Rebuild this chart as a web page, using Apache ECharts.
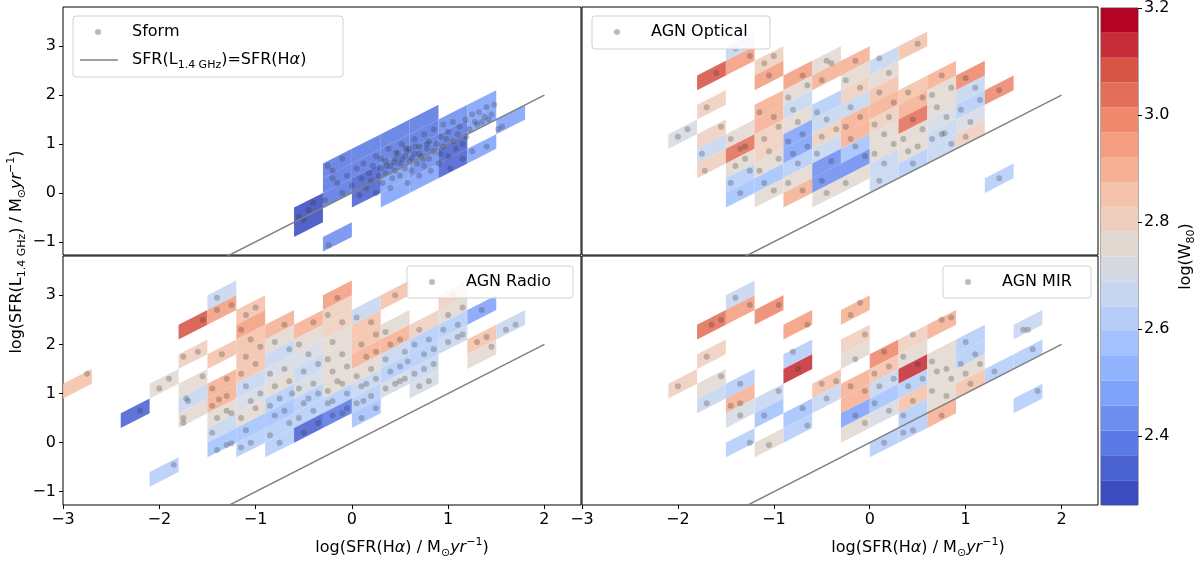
<!DOCTYPE html>
<html>
<head>
<meta charset="utf-8">
<script src="https://cdn.jsdelivr.net/npm/echarts@6/dist/echarts.min.js"></script>
<style>
  html, body { margin: 0; background: #fff; }
  #chart { width: 1200px; height: 569px; }
</style>
</head>
<body>
<div id="chart"></div>
<script>
// Axis limits shared by all four panels.
const X_MIN = -3, X_MAX = 2.38;
const Y_MIN = -1.27, Y_MAX = 3.8;
const X_TICKS = [-3, -2, -1, 0, 1, 2];
const Y_TICKS = [-1, 0, 1, 2, 3];

// Bins are 0.3 dex in SFR(Ha) and 0.3 dex in the offset from the 1:1 line,
// so every cell is a parallelogram that leans along y = x.
const BIN = 0.3;

// Colour scale: 20 discrete coolwarm levels between the data min and max.
const W80_MIN = 2.271, W80_MAX = 3.2;
const CBAR_TICKS = [2.4, 2.6, 2.8, 3.0, 3.2];
const LEVEL_COLORS = [
  "#3b4cc0", "#4a62d1", "#5b79e4", "#6d8ef0", "#7fa2fa",
  "#91b3fd", "#a3c2fd", "#b5cdf8", "#c6d6f0", "#d5dae2",
  "#e2d8d2", "#eecfbf", "#f4c1aa", "#f6b194", "#f49d80",
  "#ef886c", "#e46f59", "#d75546", "#c62d36", "#b40426",
];

// Cells: [left edge in log SFR(Ha), low edge of offset above 1:1, log W80]
const SFORM_CELLS = [
  [-0.6, -0.3, 2.28], [-0.6, 0, 2.3],
  [-0.3, -0.9, 2.45], [-0.3, 0, 2.37], [-0.3, 0.3, 2.37], [-0.3, 0.6, 2.37],
  [0, -0.3, 2.34], [0, 0, 2.34], [0, 0.3, 2.37], [0, 0.6, 2.37],
  [0.3, -0.6, 2.48], [0.3, -0.3, 2.48], [0.3, 0, 2.38], [0.3, 0.3, 2.37], [0.3, 0.6, 2.37],
  [0.6, -0.6, 2.48], [0.6, -0.3, 2.43], [0.6, 0, 2.38], [0.6, 0.3, 2.37], [0.6, 0.6, 2.37],
  [0.9, -0.6, 2.36], [0.9, -0.3, 2.36], [0.9, 0, 2.4], [0.9, 0.3, 2.42],
  [1.2, 0.3, 2.46], [1.2, 0, 2.46], [1.2, -0.6, 2.48],
  [1.5, -0.3, 2.5],
];
const OPTICAL_CELLS = [
  [-2.1, 3.0, 2.72],
  [-1.8, 3.9, 3.08], [-1.8, 3.3, 2.8], [-1.8, 2.7, 2.8], [-1.8, 2.4, 2.65], [-1.8, 2.1, 2.8],
  [-1.5, 4.2, 2.66], [-1.5, 3.9, 2.93], [-1.5, 2.4, 2.78], [-1.5, 2.1, 3.03], [-1.5, 1.8, 2.74],
  [-1.5, 1.5, 2.64], [-1.5, 1.2, 2.55],
  [-1.2, 3.6, 2.82], [-1.2, 3.3, 2.93], [-1.2, 2.7, 2.88], [-1.2, 2.4, 2.9], [-1.2, 2.1, 2.8],
  [-1.2, 1.8, 2.8], [-1.2, 1.5, 2.74], [-1.2, 1.2, 2.55], [-1.2, 0.9, 2.74],
  [-0.9, 3.0, 2.93], [-0.9, 2.7, 2.75], [-0.9, 2.4, 2.66], [-0.9, 2.1, 2.74], [-0.9, 1.8, 2.5],
  [-0.9, 1.5, 2.5], [-0.9, 1.2, 2.62], [-0.9, 0.9, 2.74], [-0.9, 0.6, 2.9],
  [-0.6, 3.0, 2.75], [-0.6, 2.7, 2.9], [-0.6, 2.1, 2.6], [-0.6, 1.8, 2.68], [-0.6, 1.5, 2.8],
  [-0.6, 1.2, 2.68], [-0.6, 0.9, 2.45], [-0.6, 0.6, 2.45], [-0.6, 0.3, 2.74],
  [-0.3, 2.7, 2.9], [-0.3, 2.4, 2.78], [-0.3, 2.1, 2.8], [-0.3, 1.8, 2.65], [-0.3, 1.5, 2.88],
  [-0.3, 1.2, 2.88], [-0.3, 0.9, 2.55], [-0.3, 0.6, 2.45], [-0.3, 0.3, 2.74],
  [0, 2.4, 2.66], [0, 2.1, 2.76], [0, 1.8, 2.86], [0, 1.5, 2.88], [0, 1.2, 2.82],
  [0, 0.9, 2.74], [0, 0.6, 2.74], [0, 0.3, 2.65], [0, 0, 2.65],
  [0.3, 2.4, 2.85], [0.3, 1.5, 2.84], [0.3, 1.2, 2.9], [0.3, 0.9, 3.05], [0.3, 0.6, 2.74],
  [0.3, 0.3, 2.74], [0.3, 0, 2.62],
  [0.6, 1.5, 2.88], [0.6, 1.2, 2.74], [0.6, 0.9, 2.74], [0.6, 0.6, 2.7], [0.6, 0.3, 2.68], [0.6, 0, 2.66],
  [0.9, 1.2, 2.98], [0.9, 0.9, 2.66], [0.9, 0.6, 2.6], [0.9, 0.3, 2.72], [0.9, 0, 2.8],
  [1.2, 0.6, 3.0], [1.2, -1.2, 2.62],
];
const RADIO_CELLS = [
  [-3.0, 3.9, 2.86],
  [-2.4, 2.7, 2.33],
  [-2.1, 3.0, 2.74], [-2.1, 1.2, 2.64],
  [-1.8, 3.9, 3.08], [-1.8, 3.3, 2.8], [-1.8, 2.7, 2.74], [-1.8, 2.4, 2.66], [-1.8, 2.1, 2.74],
  [-1.5, 4.2, 2.66], [-1.5, 3.9, 2.93], [-1.5, 3.0, 2.86], [-1.5, 2.4, 2.88], [-1.5, 2.1, 2.92],
  [-1.5, 1.8, 2.74], [-1.5, 1.5, 2.66], [-1.5, 1.2, 2.58],
  [-1.2, 3.6, 2.84], [-1.2, 3.3, 2.96], [-1.2, 3.0, 2.87], [-1.2, 2.7, 2.87], [-1.2, 2.4, 2.86],
  [-1.2, 2.1, 2.66], [-1.2, 1.8, 2.7], [-1.2, 1.5, 2.74], [-1.2, 1.2, 2.56], [-1.2, 0.9, 2.62],
  [-0.9, 3.0, 2.9], [-0.9, 2.7, 2.76], [-0.9, 2.4, 2.66], [-0.9, 2.1, 2.7], [-0.9, 1.8, 2.74],
  [-0.9, 1.5, 2.6], [-0.9, 1.2, 2.58], [-0.9, 0.9, 2.62], [-0.9, 0.6, 2.62],
  [-0.6, 2.7, 2.9], [-0.6, 2.4, 2.76], [-0.6, 2.1, 2.72], [-0.6, 1.8, 2.66], [-0.6, 1.5, 2.7],
  [-0.6, 1.2, 2.6], [-0.6, 0.9, 2.64], [-0.6, 0.6, 2.35],
  [-0.3, 3.0, 2.93], [-0.3, 2.7, 2.8], [-0.3, 2.4, 2.8], [-0.3, 2.1, 2.78], [-0.3, 1.8, 2.75],
  [-0.3, 1.5, 2.75], [-0.3, 1.2, 2.74], [-0.3, 0.9, 2.64], [-0.3, 0.6, 2.38],
  [0, 2.4, 2.66], [0, 2.1, 2.86], [0, 1.8, 2.86], [0, 1.5, 2.9], [0, 1.2, 2.74],
  [0, 0.9, 2.66], [0, 0.6, 2.6], [0, 0.3, 2.55],
  [0.3, 2.4, 2.86], [0.3, 1.8, 2.76], [0.3, 1.5, 2.9], [0.3, 1.2, 2.66], [0.3, 0.9, 2.62], [0.3, 0.6, 2.72],
  [0.6, 1.5, 2.8], [0.6, 1.2, 2.6], [0.6, 0.9, 2.6], [0.6, 0.6, 2.66], [0.6, 0.3, 2.7],
  [0.9, 1.8, 2.8], [0.9, 1.5, 2.76], [0.9, 1.2, 2.64], [0.9, 0.9, 2.66],
  [1.2, 1.2, 2.5], [1.2, 0.6, 2.86], [1.2, 0.3, 2.76],
  [1.5, 0.6, 2.66],
];
const MIR_CELLS = [
  [-2.1, 3.0, 2.8],
  [-1.8, 3.9, 3.06], [-1.8, 3.3, 2.8], [-1.8, 2.7, 2.74], [-1.8, 2.4, 2.66],
  [-1.5, 4.2, 2.66], [-1.5, 3.9, 2.93], [-1.5, 2.4, 2.62], [-1.5, 2.1, 2.9], [-1.5, 1.8, 2.7], [-1.5, 1.2, 2.62],
  [-1.2, 3.6, 2.97], [-1.2, 1.8, 2.68], [-1.2, 1.5, 2.58], [-1.2, 0.9, 2.74],
  [-0.9, 3.0, 2.95], [-0.9, 2.4, 2.6], [-0.9, 2.1, 3.15], [-0.9, 1.2, 2.55], [-0.9, 0.9, 2.64],
  [-0.6, 1.5, 2.86], [-0.6, 1.2, 2.66],
  [-0.3, 2.7, 2.88], [-0.3, 2.1, 2.8], [-0.3, 1.8, 2.74], [-0.3, 1.2, 2.92], [-0.3, 0.9, 2.92],
  [-0.3, 0.6, 2.5], [-0.3, 0.3, 2.74],
  [0, 1.5, 3.0], [0, 1.2, 2.86], [0, 0.9, 2.66], [0, 0.6, 2.58], [0, 0.3, 2.72], [0, -0.3, 2.62],
  [0.3, 1.5, 2.8], [0.3, 1.2, 2.74], [0.3, 0.9, 3.15], [0.3, 0.6, 2.64], [0.3, 0.3, 2.86],
  [0.3, 0, 2.6], [0.3, -0.3, 2.64],
  [0.6, 1.5, 2.9], [0.6, 0.9, 2.74], [0.6, 0.6, 2.76], [0.6, 0.3, 2.74], [0.6, 0, 2.74], [0.6, -0.3, 2.9],
  [0.9, 0.9, 2.6], [0.9, 0.6, 2.62], [0.9, 0.3, 2.74], [0.9, 0, 2.86],
  [1.2, 0, 2.64],
  [1.5, 0.6, 2.66], [1.5, 0, 2.6], [1.5, -0.9, 2.64],
];

// Individual galaxies: [log SFR(Ha), log SFR(L1.4GHz)]
const SFORM_POINTS = [
  [-0.55, -0.5], [-0.45, -0.35], [-0.4, -0.2], [-0.5, -0.55], [-0.24, -1.07],
  [-0.28, -0.15], [-0.25, 0.55], [-0.2, 0.45], [-0.2, 0.3], [-0.15, 0.2], [-0.1, 0.0], [-0.1, 0.7], [-0.05, 0.35],
  [0.0, 0.15], [0.05, 0.5], [0.08, -0.05], [0.1, 0.3], [0.12, 0.6], [0.15, 0.1], [0.18, 0.4], [0.2, 0.25],
  [0.22, 0.55], [0.25, 0.0], [0.25, 0.75], [0.28, 0.35],
  [0.3, 0.5], [0.3, 0.7], [0.32, 0.2], [0.35, 0.65], [0.35, 0.4], [0.36, 0.55], [0.38, 0.9], [0.4, 0.55],
  [0.4, 0.1], [0.42, 0.3], [0.44, 0.62], [0.45, 0.7], [0.45, 0.45], [0.46, 0.82], [0.48, 0.8], [0.5, 0.6],
  [0.5, 0.35], [0.52, 1.0], [0.52, 0.68], [0.55, 0.5], [0.55, 0.75], [0.56, 0.9], [0.58, 0.2], [0.58, 0.85],
  [0.6, 0.9], [0.6, 0.65], [0.62, 0.45], [0.62, 0.72], [0.65, 1.1], [0.65, 0.8], [0.66, 0.95], [0.68, 0.6],
  [0.7, 0.95], [0.7, 0.35], [0.7, 0.8], [0.72, 0.75], [0.74, 0.68], [0.75, 1.2], [0.75, 0.55], [0.78, 0.9],
  [0.78, 1.0], [0.8, 1.05], [0.8, 0.7], [0.82, 0.45], [0.85, 1.3], [0.85, 0.85], [0.88, 1.0],
  [0.9, 0.6], [0.92, 1.15], [0.92, 0.8], [0.95, 1.4], [0.95, 0.95], [0.98, 1.1], [1.0, 0.75], [1.0, 1.25],
  [1.02, 0.5], [1.05, 1.05], [1.05, 1.45], [1.08, 0.9], [1.1, 1.2], [1.12, 1.35], [1.15, 1.0], [1.15, 0.7],
  [1.18, 1.5], [1.19, 1.15],
  [1.22, 1.3], [1.25, 1.6], [1.25, 0.85], [1.28, 1.45], [1.3, 1.4], [1.32, 1.65], [1.35, 1.45], [1.38, 1.55],
  [1.4, 1.75], [1.4, 0.95], [1.42, 1.5], [1.45, 1.6], [1.48, 1.8],
  [1.52, 1.3], [1.56, 1.35],
];
const OPTICAL_POINTS = [
  [-2.0, 1.15], [-1.9, 1.3],
  [-1.6, 2.45], [-1.7, 1.75], [-1.55, 1.35], [-1.75, 0.8], [-1.72, 0.45],
  [-1.4, 2.95], [-1.25, 2.8], [-1.45, 1.1], [-1.35, 0.9], [-1.3, 0.95], [-1.4, 0.55], [-1.3, 0.7],
  [-1.45, 0.2], [-1.25, 0.45], [-1.35, 0.0],
  [-1.1, 2.65], [-1.0, 2.8], [-1.05, 2.4], [-1.15, 1.65], [-1.0, 1.55], [-1.1, 1.1], [-0.95, 1.35],
  [-1.05, 0.85], [-1.15, 0.45], [-0.95, 0.7], [-1.1, 0.2], [-1.0, 0.05],
  [-0.7, 2.4], [-0.85, 1.95], [-0.65, 2.2], [-0.8, 1.7], [-0.75, 1.45], [-0.85, 1.05], [-0.7, 1.2],
  [-0.8, 0.8], [-0.65, 0.95], [-0.75, 0.6], [-0.85, 0.2], [-0.7, 0.05],
  [-0.45, 2.7], [-0.4, 2.65], [-0.5, 2.3], [-0.55, 1.65], [-0.45, 1.5], [-0.5, 1.15], [-0.35, 1.3],
  [-0.55, 0.8], [-0.4, 0.65], [-0.5, 0.25], [-0.45, 0.0],
  [-0.15, 2.7], [-0.25, 2.3], [-0.1, 2.15], [-0.2, 1.75], [-0.25, 1.35], [-0.1, 1.55], [-0.2, 1.1],
  [-0.15, 0.95], [-0.05, 0.75], [-0.25, 0.2],
  [0.1, 2.75], [0.2, 2.45], [0.1, 2.05], [0.25, 1.85], [0.05, 1.4], [0.2, 1.55], [0.15, 1.2],
  [0.05, 0.8], [0.25, 1.0], [0.15, 0.6], [0.1, 0.25],
  [0.5, 3.05], [0.4, 2.05], [0.55, 1.95], [0.45, 1.5], [0.35, 1.1], [0.55, 1.3], [0.4, 0.85],
  [0.5, 0.95], [0.45, 0.6],
  [0.75, 2.4], [0.65, 2.0], [0.85, 2.15], [0.7, 1.75], [0.8, 1.55], [0.65, 1.1], [0.75, 1.2],
  [0.78, 1.22], [0.85, 1.0],
  [1.0, 2.35], [1.1, 2.15], [0.95, 1.7], [1.15, 1.9], [1.05, 1.45], [1.0, 1.15],
  [1.35, 2.1], [1.35, 0.3],
];
const RADIO_POINTS = [
  [-2.75, 1.4], [-2.2, 0.65], [-2.0, 1.1], [-1.9, 1.3], [-1.85, -0.45],
  [-1.55, 2.5], [-1.75, 1.75], [-1.6, 1.85], [-1.55, 1.35], [-1.7, 0.85], [-1.72, 0.9], [-1.75, 0.5], [-1.75, 0.4],
  [-1.4, 2.95], [-1.25, 2.8], [-1.4, 2.7], [-1.35, 1.8], [-1.45, 1.1], [-1.3, 1.3], [-1.45, 0.75],
  [-1.38, 0.88], [-1.3, 0.95], [-1.4, 0.5], [-1.3, 0.65], [-1.25, 0.6], [-1.45, 0.2], [-1.4, -0.15],
  [-1.3, -0.05], [-1.25, -0.02],
  [-1.0, 2.75], [-1.1, 2.6], [-1.15, 2.3], [-1.05, 2.1], [-1.1, 1.75], [-0.95, 1.95], [-1.15, 1.4],
  [-1.0, 1.6], [-1.1, 1.15], [-1.05, 0.85], [-0.95, 1.0], [-1.15, 0.5], [-1.0, 0.7], [-1.1, 0.25],
  [-1.05, 0.0], [-1.15, -0.1],
  [-0.7, 2.4], [-0.8, 2.05], [-0.65, 1.9], [-0.85, 1.4], [-0.7, 1.5], [-0.8, 1.15], [-0.65, 1.25],
  [-0.85, 0.75], [-0.75, 0.9], [-0.62, 1.0], [-0.8, 0.55], [-0.7, 0.65], [-0.85, 0.15], [-0.65, 0.4], [-0.75, 0.0],
  [-0.4, 2.45], [-0.55, 2.0], [-0.45, 1.8], [-0.5, 1.45], [-0.35, 1.6], [-0.55, 1.1], [-0.4, 1.2],
  [-0.5, 0.8], [-0.35, 1.0], [-0.45, 0.9], [-0.55, 0.5], [-0.4, 0.65], [-0.5, 0.2], [-0.35, 0.4],
  [-0.15, 2.95], [-0.25, 2.6], [-0.1, 2.45], [-0.2, 2.05], [-0.25, 1.7], [-0.1, 1.8], [-0.2, 1.45],
  [-0.05, 1.55], [-0.25, 1.05], [-0.1, 1.2], [-0.15, 1.25], [-0.25, 0.8], [-0.05, 1.0], [-0.2, 0.85],
  [-0.2, 0.55], [-0.1, 0.6], [-0.05, 0.7],
  [0.05, 2.55], [0.2, 2.45], [0.1, 2.0], [0.25, 2.2], [0.15, 1.75], [0.25, 1.85], [0.05, 1.35],
  [0.2, 1.5], [0.1, 1.15], [0.25, 1.3], [0.15, 1.2], [0.05, 0.8], [0.2, 0.95], [0.12, 0.85],
  [0.1, 0.5], [0.25, 0.7],
  [0.45, 3.0], [0.35, 2.25], [0.5, 2.1], [0.4, 2.0], [0.35, 1.7], [0.55, 1.85], [0.4, 1.45],
  [0.5, 1.55], [0.58, 1.65], [0.35, 1.1], [0.45, 1.2], [0.55, 1.3], [0.5, 1.25],
  [0.7, 2.3], [0.65, 2.0], [0.8, 2.1], [0.75, 1.8], [0.85, 1.9], [0.65, 1.4], [0.75, 1.5],
  [0.85, 1.6], [0.7, 1.15], [0.8, 1.25],
  [1.05, 3.0], [1.0, 2.6], [1.15, 2.75], [0.95, 2.3], [1.1, 2.4], [1.0, 2.05], [1.1, 2.15], [1.15, 2.2],
  [1.35, 2.7], [1.3, 2.05], [1.4, 2.15], [1.45, 1.95], [1.6, 2.3], [1.7, 2.4],
];
const MIR_POINTS = [
  [-2.0, 1.15],
  [-1.65, 2.4], [-1.55, 2.5], [-1.7, 1.75], [-1.55, 1.35], [-1.7, 0.8],
  [-1.4, 2.95], [-1.25, 2.8], [-1.35, 1.2], [-1.45, 0.75], [-1.35, 0.8], [-1.35, 0.55], [-1.25, 0.0],
  [-0.95, 2.8], [-0.95, 1.05], [-1.1, 0.55], [-1.05, -0.05],
  [-0.65, 2.4], [-0.8, 1.85], [-0.75, 1.5], [-0.7, 0.7], [-0.65, 0.35],
  [-0.5, 1.2], [-0.35, 1.25], [-0.45, 0.9],
  [-0.2, 2.6], [-0.1, 2.85], [-0.05, 2.2], [-0.15, 1.7], [-0.2, 1.15], [-0.05, 1.05], [-0.15, 0.55], [-0.05, 0.4],
  [0.15, 1.85], [0.05, 1.4], [0.2, 1.55], [0.1, 1.15], [0.25, 1.3], [0.05, 0.8], [0.2, 0.65], [0.15, 0.0],
  [0.45, 2.2], [0.35, 1.75], [0.5, 1.6], [0.4, 1.15], [0.55, 1.3], [0.45, 0.85], [0.35, 0.55],
  [0.45, 0.25], [0.35, 0.2],
  [0.75, 2.5], [0.85, 2.55], [0.65, 1.65], [0.8, 1.5], [0.7, 1.45], [0.65, 1.05], [0.85, 1.3],
  [0.8, 0.95], [0.75, 0.55],
  [1.0, 2.05], [1.1, 1.8], [0.95, 1.6], [1.15, 1.6], [1.0, 1.4], [1.05, 1.2],
  [1.3, 1.45],
  [1.6, 2.3], [1.65, 2.3], [1.7, 1.9], [1.75, 1.05],
];

// 1:1 relation, clipped to the axes by the grid.
const ONE_TO_ONE = [[-3, -3], [2, 2]];

const PANELS = [
  { name: "Sform", cells: SFORM_CELLS, points: SFORM_POINTS },
  { name: "AGN Optical", cells: OPTICAL_CELLS, points: OPTICAL_POINTS },
  { name: "AGN Radio", cells: RADIO_CELLS, points: RADIO_POINTS },
  { name: "AGN MIR", cells: MIR_CELLS, points: MIR_POINTS },
];

const BOXES = [
  { left: 63, top: 7, width: 518, height: 248 },
  { left: 582, top: 7, width: 516, height: 248 },
  { left: 63, top: 256, width: 518, height: 249 },
  { left: 582, top: 256, width: 516, height: 249 },
];
const CBAR_BOX = { left: 1101, top: 7, width: 37, height: 498 };

const FONT = "DejaVu Sans";
const POINT_COLOR = "rgba(50,50,50,0.33)";
const LINE_COLOR = "#808080";
const CELL_ALPHA = 0.88;

const minus = (v) => String(v).replace("-", "\u2212");
const RICH = {
  sub: { fontSize: 11, fontFamily: FONT, lineHeight: 12, verticalAlign: "bottom", fill: "#000", color: "#000" },
  sup: { fontSize: 11, fontFamily: FONT, lineHeight: 12, verticalAlign: "top", fill: "#000", color: "#000" },
  it: { fontSize: 16, fontFamily: FONT, fontStyle: "italic", lineHeight: 22, fill: "#000", color: "#000" },
};

function renderCell(params, api) {
  const x0 = api.value(0);
  const r0 = api.value(1);
  const pts = [
    api.coord([x0, x0 + r0]),
    api.coord([x0 + BIN, x0 + BIN + r0]),
    api.coord([x0 + BIN, x0 + BIN + r0 + BIN]),
    api.coord([x0, x0 + r0 + BIN]),
  ];
  return {
    type: "polygon",
    shape: { points: pts },
    style: { fill: api.visual("color"), opacity: CELL_ALPHA },
  };
}

function renderBand(params, api) {
  const lo = api.coord([0, api.value(0)]);
  const hi = api.coord([1, api.value(1)]);
  return {
    type: "rect",
    shape: { x: lo[0], y: hi[1], width: hi[0] - lo[0], height: lo[1] - hi[1] },
    style: { fill: api.visual("color") },
  };
}

const step = (W80_MAX - W80_MIN) / LEVEL_COLORS.length;
const pieces = LEVEL_COLORS.map((c, i) => ({
  gte: W80_MIN + i * step,
  lt: i === LEVEL_COLORS.length - 1 ? W80_MAX + 1 : W80_MIN + (i + 1) * step,
  color: c,
}));
const bands = LEVEL_COLORS.map((c, i) => [
  W80_MIN + i * step, W80_MIN + (i + 1) * step, W80_MIN + (i + 0.5) * step,
]);

const grid = BOXES.map((b) => ({
  ...b, show: true, borderColor: "#000", borderWidth: 1, backgroundColor: "transparent",
}));
grid.push({ ...CBAR_BOX, show: true, borderColor: "#333", borderWidth: 0.8 });

const xAxis = BOXES.map((b, i) => {
  const bottom = i >= 2;
  return {
    gridIndex: i, type: "value", min: X_MIN, max: X_MAX, position: "bottom",
    axisLine: { show: false, onZero: false }, splitLine: { show: false },
    axisTick: { show: bottom, customValues: X_TICKS, length: 4, lineStyle: { color: "#000" } },
    axisLabel: {
      show: bottom, customValues: X_TICKS, formatter: minus, margin: 7,
      fontSize: 16, fontFamily: FONT, color: "#000",
    },
  };
});
xAxis.push({ gridIndex: 4, type: "value", min: 0, max: 1, show: false });

const yAxis = BOXES.map((b, i) => {
  const left = i % 2 === 0;
  return {
    gridIndex: i, type: "value", min: Y_MIN, max: Y_MAX, position: "left",
    axisLine: { show: false, onZero: false }, splitLine: { show: false },
    axisTick: { show: left, customValues: Y_TICKS, length: 4, lineStyle: { color: "#000" } },
    axisLabel: {
      show: left, customValues: Y_TICKS, formatter: minus, margin: 7,
      fontSize: 16, fontFamily: FONT, color: "#000",
    },
  };
});
yAxis.push({
  gridIndex: 4, type: "value", position: "right", min: W80_MIN, max: W80_MAX,
  axisLine: { show: false, onZero: false }, splitLine: { show: false },
  axisTick: { show: true, customValues: CBAR_TICKS, length: 4, lineStyle: { color: "#000" } },
  axisLabel: {
    customValues: CBAR_TICKS, formatter: (v) => v.toFixed(1), margin: 6,
    fontSize: 16, fontFamily: FONT, color: "#000",
  },
  name: "log(W{sub|80})", nameLocation: "middle", nameRotate: 90, nameGap: 37,
  nameTextStyle: { fontSize: 16, fontFamily: FONT, color: "#000", lineHeight: 22, rich: RICH },
});

const series = [];
const cellSeriesIdx = [];
PANELS.forEach((p, i) => {
  cellSeriesIdx.push(series.length);
  series.push({
    type: "custom", xAxisIndex: i, yAxisIndex: i, renderItem: renderCell,
    data: p.cells, encode: { x: 0, y: 1 }, clip: true, z: 1, silent: true,
  });
  series.push({
    type: "scatter", name: p.name, xAxisIndex: i, yAxisIndex: i, data: p.points,
    symbol: "circle", symbolSize: 6, itemStyle: { color: POINT_COLOR }, z: 3, silent: true,
  });
  series.push({
    type: "line", xAxisIndex: i, yAxisIndex: i, data: ONE_TO_ONE, showSymbol: false,
    lineStyle: { color: LINE_COLOR, width: 1.5 }, clip: true, z: 4, silent: true,
  });
});
cellSeriesIdx.push(series.length);
series.push({
  type: "custom", xAxisIndex: 4, yAxisIndex: 4, renderItem: renderBand,
  data: bands, encode: { x: 0, y: 1 }, z: 1, silent: true,
});

// Legend boxes drawn as graphics so they sit exactly where matplotlib put them.
function legendBox(x, y, w, h, entries) {
  const els = [{
    type: "rect", shape: { x, y, width: w, height: h, r: 3 }, z: 100,
    style: { fill: "rgba(255,255,255,0.85)", stroke: "#d0d0d0", lineWidth: 1 },
  }];
  entries.forEach((e, k) => {
    const cy = y + 16 + k * 28;
    if (e.kind === "dot") {
      els.push({ type: "circle", shape: { cx: x + 25, cy, r: 3 }, z: 101, style: { fill: POINT_COLOR } });
    } else {
      els.push({
        type: "line", shape: { x1: x + 7, y1: cy, x2: x + 45, y2: cy }, z: 101,
        style: { stroke: LINE_COLOR, lineWidth: 1.5 },
      });
    }
    els.push({
      type: "text", x: x + 59, y: cy, z: 101,
      style: {
        text: e.text, rich: RICH, fontSize: 16, fontFamily: FONT, fill: "#000",
        lineHeight: 22, verticalAlign: "middle", align: "left",
      },
    });
  });
  return els;
}

const X_TITLE = "log(SFR(H{it|\u03b1}) / M{sub|\u2299}{it|yr}{sup|\u22121})";
const Y_TITLE = "log(SFR(L{sub|1.4 GHz}) / M{sub|\u2299}{it|yr}{sup|\u22121})";
const titleStyle = (text) => ({
  text, rich: RICH, fontSize: 16, fontFamily: FONT, fill: "#000",
  lineHeight: 22, align: "center", verticalAlign: "middle",
});

const graphic = [
  ...legendBox(73, 16, 270, 61, [
    { kind: "dot", text: "Sform" },
    { kind: "line", text: "SFR(L{sub|1.4 GHz})=SFR(H{it|\u03b1})" },
  ]),
  ...legendBox(592, 16, 178, 33, [{ kind: "dot", text: "AGN Optical" }]),
  ...legendBox(407, 266, 166, 32, [{ kind: "dot", text: "AGN Radio" }]),
  ...legendBox(943, 266, 148, 32, [{ kind: "dot", text: "AGN MIR" }]),
  { type: "text", x: 402, y: 548, z: 100, style: titleStyle(X_TITLE) },
  { type: "text", x: 918, y: 548, z: 100, style: titleStyle(X_TITLE) },
  { type: "text", x: 17, y: 252, rotation: Math.PI / 2, z: 100, style: titleStyle(Y_TITLE) },
];

const chart = echarts.init(document.getElementById("chart"), null, { renderer: "canvas" });
chart.setOption({
  animation: false,
  backgroundColor: "#fff",
  textStyle: { fontFamily: FONT },
  grid, xAxis, yAxis, series, graphic,
  visualMap: {
    type: "piecewise", show: false, dimension: 2, seriesIndex: cellSeriesIdx, pieces,
  },
});
</script>
</body>
</html>
